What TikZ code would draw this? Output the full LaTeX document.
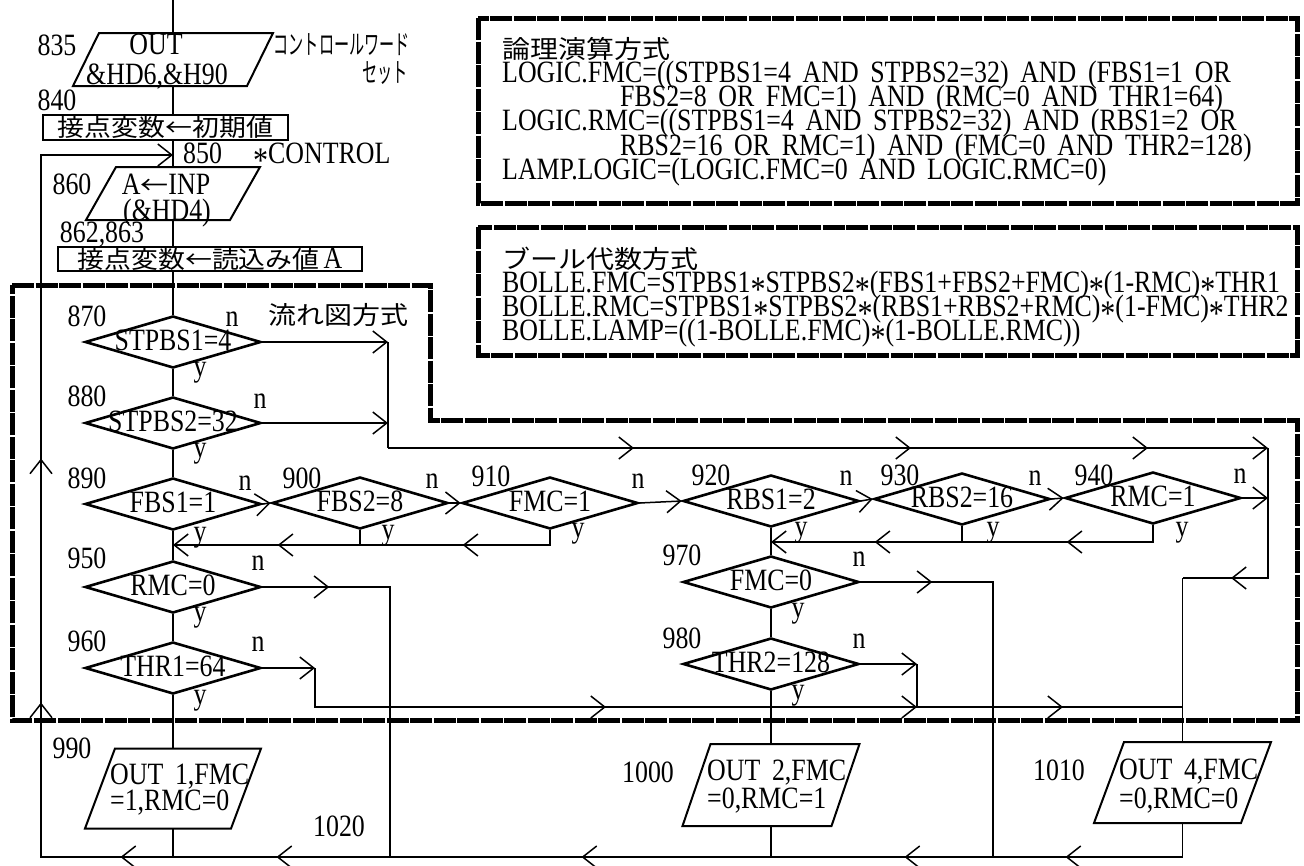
\documentclass[tikz,border=0pt]{standalone}
\usepackage{fontspec}
\setmainfont{Liberation Serif}[FakeStretch=0.835,WordSpace=1.8]
\newfontfamily\jpfont{Noto Sans CJK JP}[FakeStretch=1.12]
\newcommand{\latsize}{\fontsize{31}{33}\selectfont}
\newcommand{\jpbig}{\jpfont\fontsize{25}{28}\selectfont}
\newcommand{\jpbox}{\jpfont\fontsize{24}{27}\selectfont}
\newcommand{\mulsign}{\raisebox{-9.5pt}{\fontsize{36}{36}\selectfont *}}
\newcommand{\halfkana}[1]{\scalebox{0.5}[1]{\jpfont\fontsize{27}{30}\selectfont #1}}
\usetikzlibrary{arrows.meta}
\usetikzlibrary{decorations.markings}
\usetikzlibrary{shapes.geometric,calc}

% input/output parallelogram: name, centre x, centre y, side, height, slant
\newcommand{\iobox}[6]{%
  \coordinate (#1) at (#2,#3);
  \coordinate (#1-n) at ($(#1)+(0,-#5/2)$);
  \coordinate (#1-s) at ($(#1)+(0,#5/2)$);
  \draw[io] ($(#1)+(-#4/2-#6/2,#5/2)$) -- ++(#4,0) -- ++(#6,-#5) -- ++(-#4,0) -- cycle;
}

\begin{document}
\begin{tikzpicture}[x=1pt,y=-1pt,>={Straight Barb[length=14pt,width=22pt]}]
        \tikzset{
            conn/.style={line width=1.5pt},
            tip/.style={postaction={decorate,decoration={markings,mark=at position #1 with {\arrow{>}}}}},
            dia/.style={diamond,draw,line width=2.6pt,minimum width=176pt,minimum height=52pt,inner sep=0pt},
            io/.style={draw,line width=2pt},
            rbox/.style={draw,line width=2.2pt,inner sep=0pt,text height=21pt,text depth=3pt,font=\jpbox},
            txt/.style={inner sep=0pt,font=\latsize,text height=19pt,text depth=3pt},
            jtxt/.style={inner sep=0pt,font=\jpbig},
            hatch/.style={line width=5pt,dash pattern=on 22pt off 1.5pt},
            every label/.style={inner sep=0pt,font=\latsize,text height=19pt,text depth=3pt}
        }
        \useasboundingbox (0,0) rectangle (1304,865);
        % hatched frames
        \draw[hatch] (478,18) rectangle (1297,203);
        \draw[hatch] (478,227) rectangle (1297,355);
        \draw[hatch] (12,285) -- (430,285) -- (430,420) -- (1297,420) -- (1297,720) -- (12,720) -- cycle;
        % formula boxes
        \node[jtxt,anchor=west] (lgtitle) at (502,49) {論理演算方式};
        \node[txt,anchor=west] (lg1) at (502,74) {LOGIC.FMC=((STPBS1=4 AND STPBS2=32) AND (FBS1=1 OR};
        \node[txt,anchor=west] (lg2) at (620,98) {FBS2=8 OR FMC=1) AND (RMC=0 AND THR1=64)};
        \node[txt,anchor=west] (lg3) at (502,122) {LOGIC.RMC=((STPBS1=4 AND STPBS2=32) AND (RBS1=2 OR};
        \node[txt,anchor=west] (lg4) at (620,147) {RBS2=16 OR RMC=1) AND (FMC=0 AND THR2=128)};
        \node[txt,anchor=west] (lg5) at (502,171) {LAMP.LOGIC=(LOGIC.FMC=0 AND LOGIC.RMC=0)};
        \node[jtxt,anchor=west] (botitle) at (502,259) {ブール代数方式};
        \node[txt,anchor=west] (bo1) at (502,284) {BOLLE.FMC=STPBS1\mulsign STPBS2\mulsign(FBS1+FBS2+FMC)\mulsign(1-RMC)\mulsign THR1};
        \node[txt,anchor=west] (bo2) at (502,308) {BOLLE.RMC=STPBS1\mulsign STPBS2\mulsign(RBS1+RBS2+RMC)\mulsign(1-FMC)\mulsign THR2};
        \node[txt,anchor=west] (bo3) at (502,332) {BOLLE.LAMP=((1-BOLLE.FMC)\mulsign(1-BOLLE.RMC))};
        \node[jtxt] (flowtitle) at (338,315) {流れ図方式};
        % start of program
        \coordinate (top) at (173,0);
        \iobox{o835}{173}{59.5}{174}{53}{26}
        \node[txt] (t835a) at (156,46) {OUT};
        \node[txt] (t835b) at (157,76) {\&HD6,\&H90};
        \node[txt] (l835) at (57,47) {835};
        \node[inner sep=0pt,anchor=east] (cw1) at (410,45) {\halfkana{コントロールワード}};
        \node[inner sep=0pt,anchor=east] (cw2) at (408,73) {\halfkana{セット}};
        \node[txt] (l840) at (57,102) {840};
        \node[rbox,minimum width=245pt,minimum height=25pt] (init) at (165.5,127.5) {接点変数←初期値};
        \node[txt,anchor=west] (l850) at (183,155) {850};
        \node[txt,anchor=west] (ctrl) at (253,155) {\mulsign CONTROL};
        \iobox{i860}{173}{193.5}{144}{53}{30}
        \node[txt] (t860a) at (166,186) {A{\jpbig ←}INP};
        \node[txt] (t860b) at (167,212) {(\&HD4)};
        \node[txt] (l860) at (72,186) {860};
        \node[txt] (l862) at (102,234) {862,863};
        \node[rbox,minimum width=304pt,minimum height=24pt] (read) at (210,259) {接点変数←読込み値\,{\rmfamily\latsize A}};
        % tests
        \node[dia,label={center:{STPBS1=4}}] (d870) at (173,342) {};
        \node[dia,label={center:{STPBS2=32}}] (d880) at (173,423) {};
        \node[dia,label={center:{FBS1=1}}] (d890) at (173,504) {};
        \node[dia,label={center:{FBS2=8}}] (d900) at (360,503) {};
        \node[dia,label={center:{FMC=1}}] (d910) at (550,503) {};
        \node[dia,label={center:{RBS1=2}}] (d920) at (771,501) {};
        \node[dia,label={center:{RBS2=16}}] (d930) at (962,499) {};
        \node[dia,label={center:{RMC=1}}] (d940) at (1153,498) {};
        \node[dia,label={center:{RMC=0}}] (d950) at (173,587) {};
        \node[dia,label={center:{THR1=64}}] (d960) at (173,668) {};
        \node[dia,label={center:{FMC=0}}] (d970) at (771,582) {};
        \node[dia,label={center:{THR2=128}}] (d980) at (771,664) {};
        % line numbers
        \node[txt] (l870) at (87,318) {870};
        \node[txt] (l880) at (87,398) {880};
        \node[txt] (l890) at (87,480) {890};
        \node[txt] (l900) at (302,480) {900};
        \node[txt] (l910) at (491,478) {910};
        \node[txt] (l920) at (711,477) {920};
        \node[txt] (l930) at (900,477) {930};
        \node[txt] (l940) at (1094,477) {940};
        \node[txt] (l950) at (87,560) {950};
        \node[txt] (l960) at (87,643) {960};
        \node[txt] (l970) at (682,557) {970};
        \node[txt] (l980) at (682,640) {980};
        % n / y marks
        \node[txt] (n870) at (232,318) {n}; \node[txt] (y870) at (200,368) {y};
        \node[txt] (n880) at (260,400) {n}; \node[txt] (y880) at (200,449) {y};
        \node[txt] (n890) at (245,482) {n}; \node[txt] (y890) at (200,533) {y};
        \node[txt] (n900) at (432,480) {n}; \node[txt] (y900) at (388,531) {y};
        \node[txt] (n910) at (638,480) {n}; \node[txt] (y910) at (578,529) {y};
        \node[txt] (n920) at (846,477) {n}; \node[txt] (y920) at (801,528) {y};
        \node[txt] (n930) at (1035,477) {n}; \node[txt] (y930) at (993,528) {y};
        \node[txt] (n940) at (1240,475) {n}; \node[txt] (y940) at (1182,528) {y};
        \node[txt] (n950) at (258,562) {n}; \node[txt] (y950) at (200,613) {y};
        \node[txt] (n960) at (258,643) {n}; \node[txt] (y960) at (200,696) {y};
        \node[txt] (n970) at (859,558) {n}; \node[txt] (y970) at (798,609) {y};
        \node[txt] (n980) at (859,640) {n}; \node[txt] (y980) at (798,691) {y};
        % outputs
        \iobox{o990}{173}{788.5}{146}{80}{30}
        \node[txt,anchor=west] (t990a) at (110,776) {OUT 1,FMC};
        \node[txt,anchor=west] (t990b) at (110,802) {=1,RMC=0};
        \node[txt] (l990) at (72,750) {990};
        \iobox{o1000}{771}{785}{149}{82}{28}
        \node[txt,anchor=west] (t1000a) at (707,772) {OUT 2,FMC};
        \node[txt,anchor=west] (t1000b) at (707,800) {=0,RMC=1};
        \node[txt] (l1000) at (648,774) {1000};
        \iobox{o1010}{1182.5}{782.5}{147}{81}{30}
        \node[txt,anchor=west] (t1010a) at (1119,771) {OUT 4,FMC};
        \node[txt,anchor=west] (t1010b) at (1119,800) {=0,RMC=0};
        \node[txt] (l1010) at (1059,772) {1010};
        \node[txt] (l1020) at (339,828) {1020};
        % corner points of the connectors
        \coordinate (m850) at (173,155);
        \coordinate (lc1) at (41,155);
        \coordinate (lc2) at (41,857);
        \coordinate (bl990) at (173,857);
        \coordinate (bl950) at (390,857);
        \coordinate (bl1000) at (771,857);
        \coordinate (bl970) at (993,857);
        \coordinate (bl1010) at (1182.5,857);
        \coordinate (nx) at (388,448);
        \coordinate (rtop) at (1268,448);
        \coordinate (rbot) at (1268,578);
        \coordinate (j1010) at (rbot -| o1010);
        \coordinate (jl) at (173,545);
        \coordinate (jr) at (771,542);
        \coordinate (k960) at (315,707);
        \coordinate (k980) at (917,707);
        % main column
        \draw[conn] (top) -- (o835-n);
        \draw[conn] (o835-s) -- (o835-s |- init.north);
        \draw[conn] (init.south -| top) -- (i860-n);
        \draw[conn] (i860-s) -- (i860-s |- read.north);
        \draw[conn] (read.south -| top) -- (d870.north);
        \draw[conn] (d870.south) -- (d880.north);
        \draw[conn] (d880.south) -- (d890.north);
        \draw[conn] (d890.south) -- (d950.north);
        \draw[conn] (d950.south) -- (d960.north);
        \draw[conn] (d960.south) -- (o990-n);
        \draw[conn] (o990-s) -- (bl990);
        % row of tests
        \draw[conn,->] (d890.east) -- (d900.west);
        \draw[conn,->] (d900.east) -- (d910.west);
        \draw[conn,->] (d910.east) -- (d920.west);
        \draw[conn,->] (d920.east) -- (d930.west);
        \draw[conn,->] (d930.east) -- (d940.west);
        \draw[conn,->] (d940.east) -- (d940.east -| rtop);
        \draw[conn,->,tip/.list={102pt,287pt}] (d910.south) |- (jl);
        \draw[conn] (d900.south) -- (d900.south |- jl);
        \draw[conn,->,tip/.list={103pt,295pt}] (d940.south) |- (jr);
        \draw[conn] (d930.south) -- (d930.south |- jr);
        % second column
        \draw[conn] (d920.south) -- (d970.north);
        \draw[conn] (d970.south) -- (d980.north);
        \draw[conn] (d980.south) -- (o1000-n);
        \draw[conn] (o1000-s) -- (bl1000);
        % n exits
        \draw[conn,->] (d870.east) -- (d870.east -| nx);
        \draw[conn,->] (d880.east) -- (d880.east -| nx);
        \draw[conn] (d870.east -| nx) -- (nx);
        \draw[conn,->,tip/.list={246pt,523pt,760pt}] (nx) -- (rtop);
        \draw[conn,tip=167pt] (rtop) -- (rbot) -- (j1010);
        \draw[conn] (j1010) -- (o1010-n);
        \draw[conn] (o1010-s) -- (bl1010);
        \draw[conn,tip=67pt] (d950.east) -| (bl950);
        \draw[conn,tip=72pt] (d970.east) -| (bl970);
        \draw[conn,->] (d960.east) -- (d960.east -| k960);
        \draw[conn,tip/.list={330pt,641pt,787pt}] (d960.east -| k960) -- (k960) -- (k960 -| j1010);
        \draw[conn,->] (d980.east) -- (d980.east -| k980);
        \draw[conn] (d980.east -| k980) -- (k980);
        % loop back to *CONTROL
        \draw[conn,->,tip/.list={117pt,278pt,601pt,906pt,1062pt,1296pt,1540pt}] (bl1010) -- (lc2) -- (lc1) -- (m850);
    \end{tikzpicture}
\end{document}
